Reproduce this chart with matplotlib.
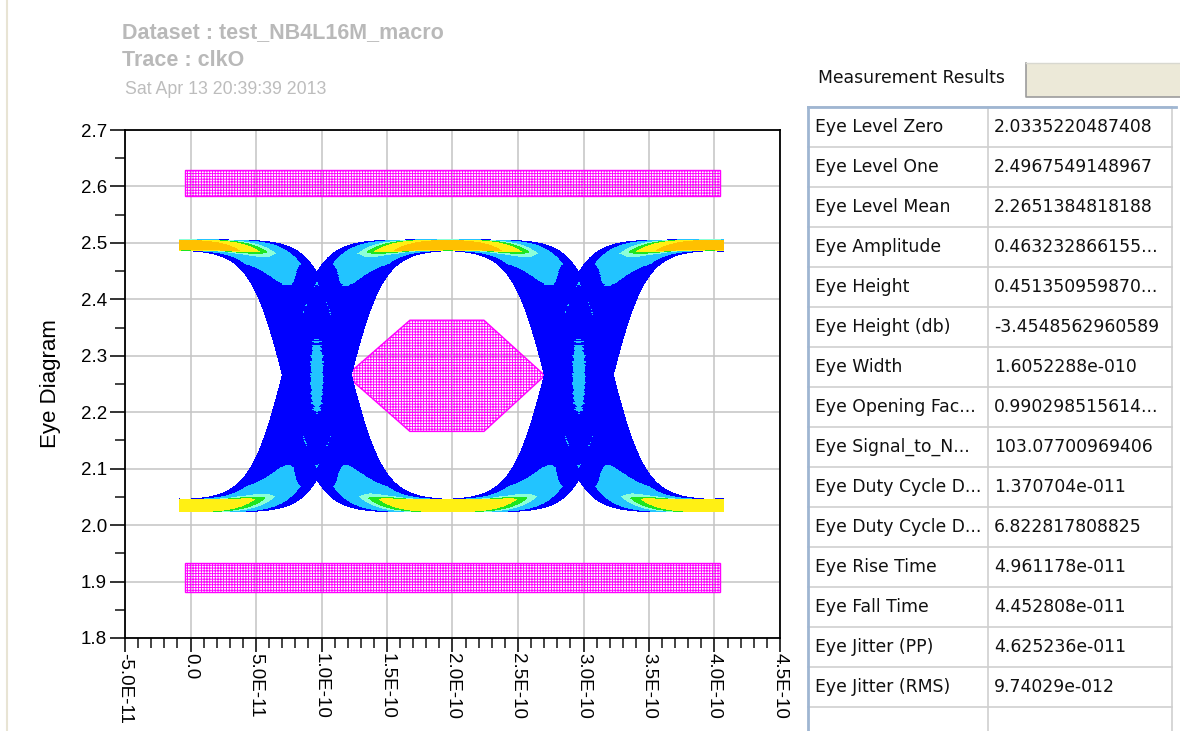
import matplotlib
matplotlib.use("Agg")
import matplotlib.pyplot as plt
import numpy as np
from matplotlib.colors import BoundaryNorm, ListedColormap
from matplotlib.patches import Polygon, Rectangle
from matplotlib.ticker import FuncFormatter, MultipleLocator

# measurement panel
MEASURE_NAMES = ["Eye Level Zero", "Eye Level One", "Eye Level Mean", "Eye Amplitude",
                 "Eye Height", "Eye Height (db)", "Eye Width", "Eye Opening Fac...",
                 "Eye Signal_to_N...", "Eye Duty Cycle D...", "Eye Duty Cycle D...",
                 "Eye Rise Time", "Eye Fall Time", "Eye Jitter (PP)", "Eye Jitter (RMS)"]
MEASURE_VALUES = ["2.0335220487408", "2.4967549148967", "2.2651384818188", "0.463232866155...",
                  "0.451350959870...", "-3.4548562960589", "1.6052288e-010", "0.990298515614...",
                  "103.07700969406", "1.370704e-011", "6.822817808825", "4.961178e-011",
                  "4.452808e-011", "4.625236e-011", "9.74029e-012"]

# eye parameters (volts / seconds)
EYE_LEVELS = [2.0335220487408, 2.4967549148967]
RAIL_SPREAD = [0.0205, 0.0185]
CROSSINGS = [-1.035e-10, 0.965e-10, 2.965e-10, 4.965e-10]
EDGE_TAU = 2.6e-11
JITTER_PP = 5.0e-11
JITTER_RMS = 9.74029e-12
TRACE_SPAN = [-0.9e-11, 4.07e-10]

# eye mask
MASK_HEX_T = [1.19e-10, 1.675e-10, 2.24e-10, 2.705e-10, 2.24e-10, 1.675e-10]
MASK_HEX_V = [2.265, 2.363, 2.363, 2.265, 2.166, 2.166]
MASK_BAR_T = [-0.45e-11, 4.04e-10]
MASK_TOP_BAR = [2.583, 2.630]
MASK_BOTTOM_BAR = [1.882, 1.932]

XLIM = (-5e-11, 4.5e-10)
YLIM = (1.8, 2.7)
NX, NY = 655, 508

DENSITY_COLORS = ["#0000ff", "#22c4ff", "#8cffd8", "#1ee61e", "#fff014", "#ffc000"]
DENSITY_BOUNDS = [1e-9, 0.113, 0.34, 0.47, 0.62, 0.9, 1.01]


def edge(t):
    return 0.5 * (1 + np.tanh(t / EDGE_TAU))


def eye_density():
    dt = (XLIM[1] - XLIM[0]) / NX
    dv = (YLIM[1] - YLIM[0]) / NY
    t = np.arange(XLIM[0], XLIM[1], dt / 8)
    state = np.zeros_like(t)
    for k, c in enumerate(CROSSINGS):
        state += (1 if k % 2 == 0 else -1) * edge(t - c)
    lo, hi = EYE_LEVELS
    hist = np.zeros((NY, NX))
    for s in (state, 1 - state):
        h, _, _ = np.histogram2d(lo + (hi - lo) * s, t, bins=[NY, NX], range=[YLIM, XLIM])
        hist += h

    # jitter: a gaussian core on a flat peak-to-peak floor
    half = int(round(JITTER_PP / dt / 2))
    off = np.arange(-half, half + 1) * dt
    kx = 0.45 + 0.55 * np.exp(-0.5 * (off / JITTER_RMS) ** 2)
    dens = np.apply_along_axis(lambda r: np.convolve(r, kx, mode="same"), 1, hist)

    # vertical noise, wider on the zero rail than on the one rail
    rows_v = YLIM[0] + dv * (np.arange(NY) + 0.5)
    out = np.zeros_like(dens)
    for spread, sel in zip(RAIL_SPREAD, (rows_v < (lo + hi) / 2, rows_v >= (lo + hi) / 2)):
        ky = np.ones(int(round(spread / dv)) | 1)
        ky /= ky.sum()
        conv = np.apply_along_axis(lambda c: np.convolve(c, ky, mode="same"), 0, dens)
        out[sel] = conv[sel]

    centers = XLIM[0] + dt * (np.arange(NX) + 0.5)
    out[:, (centers < TRACE_SPAN[0]) | (centers > TRACE_SPAN[1])] = 0
    out /= out.max()
    return np.ma.masked_less_equal(out, 1e-6)


plt.rcParams["font.family"] = ["Liberation Sans", "DejaVu Sans"]
plt.rcParams["hatch.linewidth"] = 0.65

fig = plt.figure(figsize=(11.8, 7.31), dpi=100)
fig.patch.set_facecolor("white")

# pixel-space overlay for header text and the results panel
over = fig.add_axes([0, 0, 1, 1], zorder=0)
over.set_xlim(0, 1180)
over.set_ylim(731, 0)
over.axis("off")
over.plot([7, 7], [0, 731], color="#e8e4d4", lw=1.5)

over.text(122, 33, "Dataset : test_NB4L16M_macro", fontsize=15.5, fontweight="bold",
          color="#b9b9b9", va="center")
over.text(122, 61, "Trace : clkO", fontsize=15.5, fontweight="bold", color="#b9b9b9", va="center")
over.text(125, 90, "Sat Apr 13 20:39:39 2013", fontsize=12.8, color="#bdbdbd", va="center")

tab_font = dict(family="DejaVu Sans", fontsize=12.4, color="#111111", va="center")
over.text(818, 78, "Measurement Results", **tab_font)
over.add_patch(Rectangle((1026, 63), 160, 34, facecolor="#ece9d8", edgecolor="none"))
over.plot([1026, 1026, 1180], [63, 97, 97], color="#9c9c9c", lw=1.2)
over.plot([1026, 1180], [63, 63], color="#d8d8d0", lw=1)

row_top, row_h = 107, 40
n_rows = len(MEASURE_NAMES)
for k in range(n_rows + 1):
    over.plot([808, 1172], [row_top + k * row_h] * 2, color="#cfcfcf", lw=1.2)
over.plot([988, 988], [row_top, 731], color="#cfcfcf", lw=1.2)
over.plot([1172, 1172], [row_top, 731], color="#cfcfcf", lw=1.2)
over.plot([808, 1176], [row_top, row_top], color="#9fb6d2", lw=2)
over.plot([808, 808], [row_top, 731], color="#9fb6d2", lw=2)
for k, (name, value) in enumerate(zip(MEASURE_NAMES, MEASURE_VALUES)):
    yc = row_top + (k + 0.5) * row_h
    over.text(815, yc, name, **tab_font)
    over.text(994, yc, value, **tab_font)

# eye diagram
ax = fig.add_axes([125 / 1180, 1 - 638 / 731, 655 / 1180, 508 / 731], zorder=1)
ax.set_xlim(*XLIM)
ax.set_ylim(*YLIM)
ax.set_axisbelow(True)
ax.grid(True, which="major", color="#c4c4c4", lw=1.1)

ax.imshow(eye_density(), extent=[*XLIM, *YLIM], origin="lower", aspect="auto",
          interpolation="nearest", zorder=2,
          cmap=ListedColormap(DENSITY_COLORS), norm=BoundaryNorm(DENSITY_BOUNDS, len(DENSITY_COLORS)))

mask_style = dict(facecolor="none", edgecolor="#ff00ff", hatch="++++++", lw=1.0, zorder=1.5)
ax.add_patch(Polygon(np.column_stack([MASK_HEX_T, MASK_HEX_V]), closed=True, **mask_style))
for lo, hi in (MASK_TOP_BAR, MASK_BOTTOM_BAR):
    ax.add_patch(Rectangle((MASK_BAR_T[0], lo), MASK_BAR_T[1] - MASK_BAR_T[0], hi - lo, **mask_style))

ax.xaxis.set_major_locator(MultipleLocator(5e-11))
ax.xaxis.set_minor_locator(MultipleLocator(1e-11))
ax.yaxis.set_major_locator(MultipleLocator(0.1))
ax.yaxis.set_minor_locator(MultipleLocator(0.05))
ax.xaxis.set_major_formatter(FuncFormatter(lambda v, _: "0.0" if abs(v) < 1e-15 else f"{v:.1E}"))
ax.yaxis.set_major_formatter(FuncFormatter(lambda v, _: f"{v:.1f}"))
ax.tick_params(which="major", length=11, width=1.2, labelsize=13.5, pad=2, color="#111111")
ax.tick_params(axis="x", which="major", length=10, pad=1)
ax.tick_params(which="minor", length=7, width=1.1, color="#111111")
ax.tick_params(axis="x", labelrotation=270)
for lab in ax.get_xticklabels():
    lab.set_va("top")
for sp in ax.spines.values():
    sp.set_linewidth(1.3)
ax.set_ylabel("Eye Diagram", fontsize=16, labelpad=14)

fig.savefig("out.png", dpi=100, facecolor="white")
